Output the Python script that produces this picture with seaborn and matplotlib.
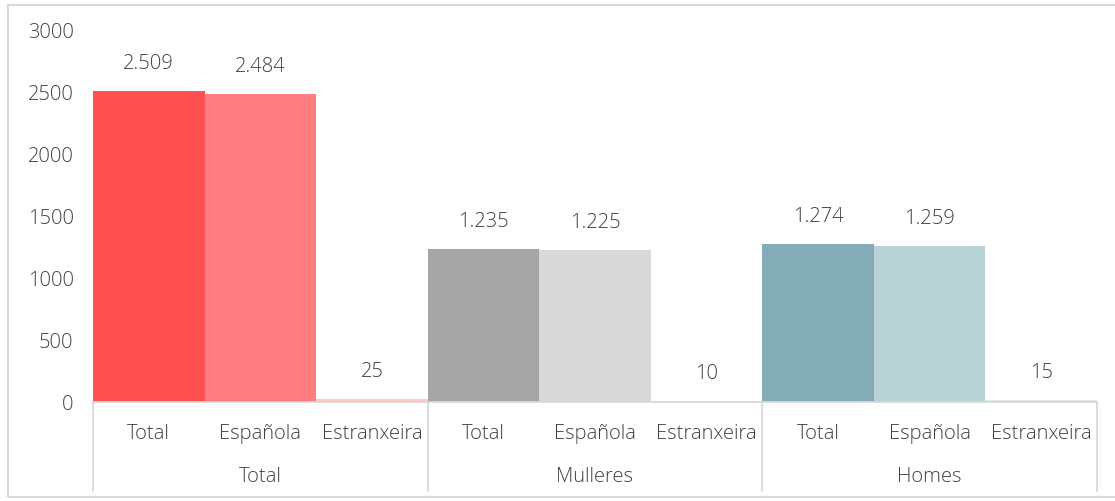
import matplotlib
matplotlib.use("Agg")
import matplotlib.pyplot as plt
import matplotlib.transforms as mtransforms
from matplotlib.patches import Rectangle
import seaborn as sns
import pandas as pd

groups = ["Total", "Mulleres", "Homes"]
subcats = ["Total", "Española", "Estranxeira"]
values = [2509, 2484, 25, 1235, 1225, 10, 1274, 1259, 15]
value_labels = ["2.509", "2.484", "25", "1.235", "1.225", "10", "1.274", "1.259", "15"]
bar_colors = ["#FF5050", "#FF7C80", "#FFC9C9",
              "#A6A6A6", "#D9D9D9", "#EDEDED",
              "#84ACB6", "#B9D2D6", "#DCE8EA"]
yticks = [0, 500, 1000, 1500, 2000, 2500, 3000]

sns.set_theme(style="white")
plt.rcParams["font.family"] = ["Open Sans", "DejaVu Sans"]
plt.rcParams["font.weight"] = 300
text_color = "#404040"
fs = 14.5

keys = [f"{g}|{s}" for g in groups for s in subcats]
df = pd.DataFrame({"key": keys, "value": values})

fig = plt.figure(figsize=(11.15, 5.02), dpi=100)
ax = fig.add_axes([93 / 1115, 1 - 403 / 502, (1097 - 93) / 1115, (403 - 31) / 502])

sns.barplot(data=df, x="key", y="value", hue="key", palette=bar_colors,
            width=1.0, legend=False, ax=ax, saturation=1, linewidth=0)

ax.set_ylim(0, 3000)
ax.set_xlim(-0.5, len(keys) - 0.5)
ax.set_yticks(yticks)
ax.set_yticklabels([str(t) for t in yticks], fontsize=fs, color=text_color, fontweight=300)
ax.tick_params(axis="y", length=0, pad=14)
ax.set_xticks(range(len(keys)))
ax.set_xticklabels(subcats * len(groups), fontsize=fs, color=text_color, fontweight=300)
ax.tick_params(axis="x", length=0, pad=15)
ax.set_xlabel("")
ax.set_ylabel("")

for s in ["top", "right", "left"]:
    ax.spines[s].set_visible(False)
ax.spines["bottom"].set_color("#D9D9D9")
ax.spines["bottom"].set_linewidth(1.3)

for container in ax.containers:
    for bar in container:
        i = int(round(bar.get_x() + bar.get_width() / 2))
        ax.annotate(value_labels[i], (bar.get_x() + bar.get_width() / 2, bar.get_height()),
                    xytext=(0, 20), textcoords="offset points", ha="center", va="center",
                    fontsize=fs, color=text_color, fontweight=300)

trans = mtransforms.blended_transform_factory(ax.transData, ax.transAxes)
n = len(subcats)
for gi, g in enumerate(groups):
    ax.text(gi * n + (n - 1) / 2, -0.2, g, transform=trans, ha="center", va="center",
            fontsize=fs, color=text_color, fontweight=300)
for gi in range(len(groups) + 1):
    ax.plot([gi * n - 0.5, gi * n - 0.5], [0, -0.24], transform=trans, color="#D9D9D9",
            lw=1.3, clip_on=False)

fig.patches.append(Rectangle((8 / 1115, 4 / 502), 1.2, 1 - 10 / 502, transform=fig.transFigure,
                             fill=False, edgecolor="#D9D9D9", lw=1.5))

fig.savefig("out.png", dpi=100)
